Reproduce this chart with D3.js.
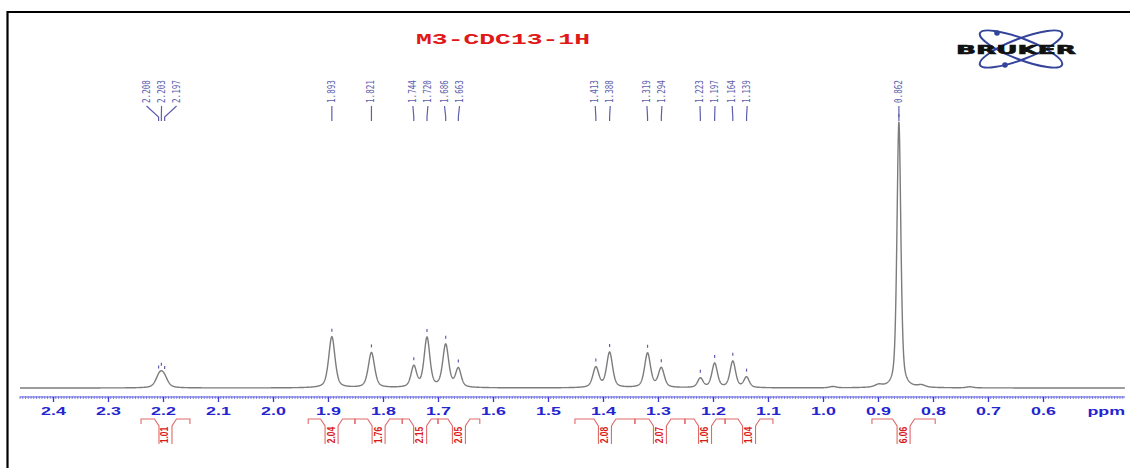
<!DOCTYPE html>
<html>
<head>
<meta charset="utf-8">
<script src="https://cdn.jsdelivr.net/npm/d3@7"></script>
<style>
  body { margin: 0; background: #fff; }
  svg { display: block; }
</style>
</head>
<body>
<svg id="chart" width="1130" height="468"></svg>
<script>
// ---- Spectrum data: M3 in CDCl3, 1H ----
const peakPpm = [2.208, 2.203, 2.197, 1.893, 1.821, 1.744, 1.720, 1.686, 1.663,
                 1.413, 1.388, 1.319, 1.294, 1.223, 1.197, 1.164, 1.139, 0.862];
const peakIntensity = [2.6, 2.9, 2.6, 19.2, 13.2, 7.8, 18.6, 16.0, 7.0,
                       7.6, 13.2, 12.9, 7.3, 3.5, 9.1, 9.9, 3.9, 100];
const peakHalfWidth = [0.0078, 0.0078, 0.0078, 0.0068, 0.0068, 0.0060, 0.0062, 0.0064, 0.0060,
                       0.0064, 0.0064, 0.0064, 0.0064, 0.0058, 0.0060, 0.0060, 0.0058, 0.0042];

// small unlabelled signals near the baseline
const minorPpm = [0.982, 0.899, 0.821, 0.733];
const minorIntensity = [0.5, 0.9, 0.8, 0.4];
const minorHalfWidth = [0.007, 0.008, 0.008, 0.007];

// integral regions and their values
const integralFrom = [2.240, 1.936, 1.851, 1.765, 1.700, 1.451, 1.342, 1.251, 1.178, 0.911];
const integralTo   = [2.151, 1.851, 1.765, 1.700, 1.624, 1.342, 1.251, 1.178, 1.091, 0.796];
const integralValue = [1.01, 2.04, 1.76, 2.15, 2.05, 2.08, 2.07, 1.06, 1.04, 6.06];

// axis
const axisTicks = [2.4, 2.3, 2.2, 2.1, 2.0, 1.9, 1.8, 1.7, 1.6, 1.5, 1.4, 1.3, 1.2, 1.1, 1.0, 0.9, 0.8, 0.7, 0.6];
const axisUnit = "ppm";
const titleText = "M3-CDC13-1H";

const svg = d3.select("#chart");
const W = 1130, H = 468;

// chemical shift runs right-to-left
const x = d3.scaleLinear().domain([2.2, 0.6]).range([163, 1043]);
const ppmLeft = x.invert(20), ppmRight = x.invert(1125);
const y = d3.scaleLinear().domain([0, 100]).range([388, 122]);

// pseudo-Voigt line shape
function shape(d, hw) {
  const r = d / hw;
  const g = Math.exp(-Math.LN2 * r * r);
  const l = 1 / (1 + r * r);
  return 0.5 * g + 0.5 * l;
}
function signal(p) {
  let s = 0;
  for (let i = 0; i < peakPpm.length; i++) s += peakIntensity[i] * shape(p - peakPpm[i], peakHalfWidth[i]);
  for (let i = 0; i < minorPpm.length; i++) s += minorIntensity[i] * shape(p - minorPpm[i], minorHalfWidth[i]);
  return s;
}

// frame
svg.append("rect").attr("width", W).attr("height", H).attr("fill", "#fff");
svg.append("line").attr("x1", 7).attr("x2", W).attr("y1", 12).attr("y2", 12)
  .attr("stroke", "#000").attr("stroke-width", 2.2);
svg.append("line").attr("x1", 7.5).attr("x2", 7.5).attr("y1", 11).attr("y2", H)
  .attr("stroke", "#000").attr("stroke-width", 2.2);

// title
svg.append("text")
  .attr("x", 416).attr("y", 44)
  .attr("textLength", 174).attr("lengthAdjust", "spacingAndGlyphs")
  .attr("font-family", "Liberation Mono, monospace").attr("font-weight", "bold")
  .attr("font-size", 15).attr("fill", "#e01818")
  .text(titleText);

// logo
const logo = svg.append("g").attr("transform", "translate(1021,49)");
[-21, 21].forEach(a => {
  logo.append("ellipse").attr("rx", 44).attr("ry", 10.5)
    .attr("transform", `rotate(${a})`)
    .attr("fill", "none").attr("stroke", "#34449a").attr("stroke-width", 2);
});
logo.append("circle").attr("cx", -24).attr("cy", -16).attr("r", 2.8).attr("fill", "#34449a");
logo.append("circle").attr("cx", -16).attr("cy", 16).attr("r", 2.8).attr("fill", "#34449a");
logo.append("rect").attr("x", -66).attr("y", -4.5).attr("width", 124).attr("height", 10).attr("fill", "#fff").attr("opacity", 0.0);
logo.append("text").attr("x", -65).attr("y", 5)
  .attr("textLength", 120).attr("lengthAdjust", "spacingAndGlyphs")
  .attr("font-family", "DejaVu Sans, sans-serif").attr("font-weight", "bold")
  .attr("font-size", 11.5).attr("fill", "#111")
  .attr("stroke", "#111").attr("stroke-width", 0.6).text("BRUKER");

// spectrum trace
const pts = d3.range(ppmLeft, ppmRight, -0.0004).map(p => [p, signal(p)]);
svg.append("path")
  .attr("d", d3.line().x(d => x(d[0])).y(d => y(d[1]))(pts))
  .attr("fill", "none").attr("stroke", "#7c7c7c").attr("stroke-width", 1.4);

// peak-pick labels, spread so that neighbouring labels do not collide
const gap = 15;
const order = peakPpm.map((p, i) => ({ i, px: x(p) })).sort((a, b) => a.px - b.px);
let groups = order.map(o => ({ items: [o], center: o.px }));
let merged = true;
while (merged) {
  merged = false;
  for (let k = 0; k < groups.length - 1; k++) {
    const a = groups[k], b = groups[k + 1];
    const aRight = a.center + (a.items.length - 1) * gap / 2;
    const bLeft = b.center - (b.items.length - 1) * gap / 2;
    if (bLeft - aRight < gap) {
      const items = a.items.concat(b.items);
      groups.splice(k, 2, { items, center: d3.mean(items, d => d.px) });
      merged = true;
      break;
    }
  }
}
groups.forEach(g => g.items.forEach((o, k) => { o.lx = g.center + (k - (g.items.length - 1) / 2) * gap; }));

const labelColor = "#5e5eae";
const lab = svg.append("g");
order.forEach(o => {
  const p = peakPpm[o.i];
  lab.append("text")
    .attr("transform", `translate(${o.lx + 3},103) rotate(-90) scale(1,1.3)`)
    .attr("font-family", "DejaVu Sans Mono, monospace").attr("font-size", 7.6)
    .attr("fill", labelColor).text(d3.format(".3f")(p));
  lab.append("path")
    .attr("d", `M${o.lx},106 L${o.px},117 L${o.px},121`)
    .attr("fill", "none").attr("stroke", labelColor).attr("stroke-width", 1.2);
  // small marker above the peak maximum
  const top = y(signal(p));
  lab.append("line").attr("x1", o.px).attr("x2", o.px)
    .attr("y1", top - 8).attr("y2", top - 5)
    .attr("stroke", labelColor).attr("stroke-width", 1.2);
});

// axis
const axisY = 397;
const axisG = svg.append("g");
axisG.append("line").attr("x1", 20).attr("x2", 1125).attr("y1", axisY).attr("y2", axisY)
  .attr("stroke", "#5a5ae0").attr("stroke-width", 1);
const minor = d3.range(Math.ceil(ppmRight / 0.005), Math.floor(ppmLeft / 0.005) + 1).map(k => k * 0.005);
axisG.selectAll("line.minor").data(minor).join("line")
  .attr("class", "minor")
  .attr("x1", d => x(d)).attr("x2", d => x(d))
  .attr("y1", axisY - 1).attr("y2", axisY + 2)
  .attr("stroke", "#6a6ae0").attr("stroke-width", 0.8);

const ax = d3.axisBottom(x).tickValues(axisTicks).tickSize(5).tickPadding(3)
  .tickFormat(d3.format(".1f"));
const axg = svg.append("g").attr("transform", `translate(0,${axisY})`).call(ax);
axg.select(".domain").remove();
axg.selectAll(".tick line").attr("stroke", "#3a3ad8").attr("stroke-width", 1.3);
axg.selectAll(".tick text")
  .attr("y", 18).attr("dy", 0)
  .attr("transform", "scale(1.7,1)")
  .attr("font-family", "Liberation Sans, Arial, sans-serif").attr("font-weight", "bold")
  .attr("font-size", 10.5).attr("fill", "#2424d0");
svg.append("text")
  .attr("transform", `translate(${x(0.485)},${axisY + 18}) scale(1.7,1)`)
  .attr("text-anchor", "middle")
  .attr("font-family", "Liberation Sans, Arial, sans-serif").attr("font-weight", "bold")
  .attr("font-size", 10.5).attr("fill", "#2424d0").text(axisUnit);

// integrals
const intG = svg.append("g");
const yT = 419;
integralValue.forEach((v, i) => {
  const x0 = x(integralFrom[i]), x1 = x(integralTo[i]);
  const cx = (x0 + x1) / 2;
  intG.append("path")
    .attr("d", `M${x0},${yT + 5} L${x0},${yT} L${cx - 11},${yT} L${cx - 6.5},${yT + 7} L${cx - 6.5},${yT + 25}` +
               ` M${cx + 6.5},${yT + 25} L${cx + 6.5},${yT + 7} L${cx + 11},${yT} L${x1},${yT} L${x1},${yT + 5}`)
    .attr("fill", "none").attr("stroke", "#e06a6a").attr("stroke-width", 1.1);
  intG.append("text")
    .attr("transform", `translate(${cx + 3},${yT + 16}) rotate(-90) scale(1,1.2)`)
    .attr("text-anchor", "middle")
    .attr("font-family", "Liberation Sans, Arial, sans-serif").attr("font-weight", "bold")
    .attr("font-size", 8.5).attr("fill", "#d81c1c")
    .text(d3.format(".2f")(v));
});
</script>
</body>
</html>
